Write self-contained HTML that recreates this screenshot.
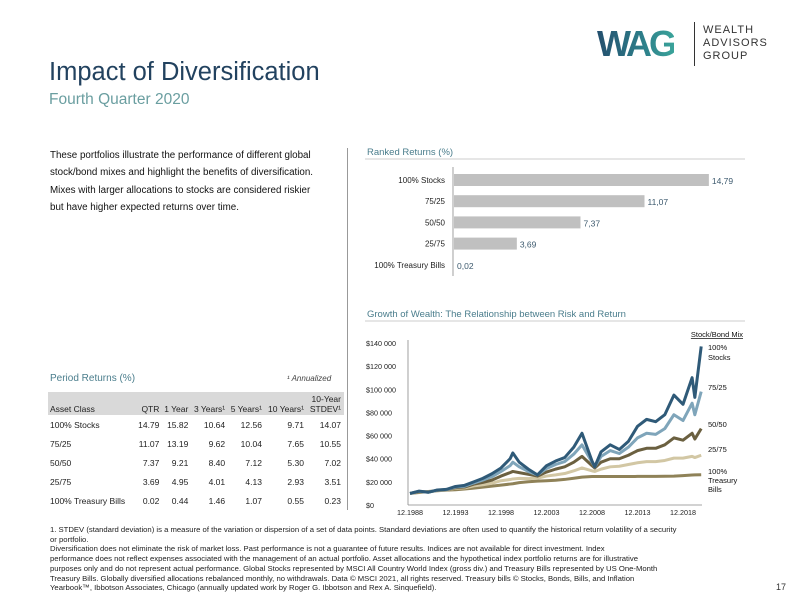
<!DOCTYPE html>
<html><head><meta charset="utf-8"><style>
body{margin:0;width:792px;height:612px;background:#fff;font-family:"Liberation Sans",sans-serif;position:relative;overflow:hidden}
.a{position:absolute;white-space:nowrap}
</style></head><body>
<div class="a" style="left:49px;top:58px;font-size:25.5px;color:#22425f">Impact of Diversification</div>
<div class="a" style="left:49px;top:91px;font-size:15.5px;color:#6a9ea0">Fourth Quarter 2020</div>
<div class="a" style="left:597px;top:22px;width:190px;height:44px">
 <div style="position:absolute;left:0;top:4px;font-size:36px;font-weight:bold;letter-spacing:-3px;line-height:36px;background:linear-gradient(90deg,#244f6e,#2d7f8a 60%,#3aa39a);-webkit-background-clip:text;background-clip:text;color:transparent">WAG</div>
 <div style="position:absolute;left:97px;top:0;width:1px;height:44px;background:#333"></div>
 <div style="position:absolute;left:106px;top:2px;font-size:11px;line-height:13px;color:#333;letter-spacing:1px">WEALTH<br>ADVISORS<br>GROUP</div>
</div>
<div class="a" style="left:50px;top:147px;font-size:9.8px;line-height:17.3px;color:#111">These portfolios illustrate the performance of different global<br>stock/bond mixes and highlight the benefits of diversification.<br>Mixes with larger allocations to stocks are considered riskier<br>but have higher expected returns over time.</div>
<div class="a" style="left:347px;top:148px;width:1px;height:362px;background:#999"></div>

<div class="a" style="left:50px;top:373px;font-size:10px;color:#4a7d8c">Period Returns (%)</div>
<div class="a" style="left:287px;top:374px;font-size:8px;font-style:italic;color:#444">¹ Annualized</div>
<div class="a" style="left:48px;top:392px;width:296px;height:23px;background:#d9d9d9"></div>
<table class="a" style="left:48px;top:392px;width:296px;border-collapse:collapse;font-size:8.5px;color:#222">
<tr style="height:23px;vertical-align:bottom"><td style="padding-left:2px">Asset Class</td><td align="right">QTR</td><td align="right">1 Year</td><td align="right">3 Years¹</td><td align="right">5 Years¹</td><td align="right">10 Years¹</td><td align="right" style="padding-right:3px">10-Year<br>STDEV¹</td></tr>
<tr style="height:19px"><td style="padding-left:2px">100% Stocks</td><td align="right">14.79</td><td align="right">15.82</td><td align="right">10.64</td><td align="right">12.56</td><td align="right">9.71</td><td align="right" style="padding-right:3px">14.07</td></tr>
<tr style="height:19px"><td style="padding-left:2px">75/25</td><td align="right">11.07</td><td align="right">13.19</td><td align="right">9.62</td><td align="right">10.04</td><td align="right">7.65</td><td align="right" style="padding-right:3px">10.55</td></tr>
<tr style="height:19px"><td style="padding-left:2px">50/50</td><td align="right">7.37</td><td align="right">9.21</td><td align="right">8.40</td><td align="right">7.12</td><td align="right">5.30</td><td align="right" style="padding-right:3px">7.02</td></tr>
<tr style="height:19px"><td style="padding-left:2px">25/75</td><td align="right">3.69</td><td align="right">4.95</td><td align="right">4.01</td><td align="right">4.13</td><td align="right">2.93</td><td align="right" style="padding-right:3px">3.51</td></tr>
<tr style="height:19px"><td style="padding-left:2px">100% Treasury Bills</td><td align="right">0.02</td><td align="right">0.44</td><td align="right">1.46</td><td align="right">1.07</td><td align="right">0.55</td><td align="right" style="padding-right:3px">0.23</td></tr>
</table>

<svg class="a" id="svg" style="left:0;top:0" width="792" height="612"></svg>

<div class="a" style="left:50px;top:525px;font-size:7.7px;line-height:9.7px;color:#222">1. STDEV (standard deviation) is a measure of the variation or dispersion of a set of data points. Standard deviations are often used to quantify the historical return volatility of a security<br>or portfolio.<br>Diversification does not eliminate the risk of market loss. Past performance is not a guarantee of future results. Indices are not available for direct investment. Index<br>performance does not reflect expenses associated with the management of an actual portfolio. Asset allocations and the hypothetical index portfolio returns are for illustrative<br>purposes only and do not represent actual performance. Global Stocks represented by MSCI All Country World Index (gross div.) and Treasury Bills represented by US One-Month<br>Treasury Bills. Globally diversified allocations rebalanced monthly, no withdrawals. Data © MSCI 2021, all rights reserved. Treasury bills © Stocks, Bonds, Bills, and Inflation<br>Yearbook™, Ibbotson Associates, Chicago (annually updated work by Roger G. Ibbotson and Rex A. Sinquefield).</div>
<div class="a" style="left:776px;top:582px;font-size:9px;color:#333">17</div>

<script>
const rankedLabels=["100% Stocks","75/25","50/50","25/75","100% Treasury Bills"];
const rankedValues=[14.79,11.07,7.37,3.69,0.02];
const rankedText=["14,79","11,07","7,37","3,69","0,02"];
const dates=[1988.9,1989.9,1990.9,1991.9,1992.9,1993.9,1994.9,1995.9,1996.9,1997.9,1998.9,1999.9,2000.2,2000.9,2001.9,2002.9,2003.9,2004.9,2005.9,2006.9,2007.8,2008.9,2009.2,2009.9,2010.9,2011.9,2012.9,2013.9,2014.9,2015.9,2016.9,2017.9,2018.9,2019.9,2020.2,2020.9];
const stocks=[10,12,11,13,13.5,16,17,20,23,27,32,40,45,37,31,26,34,38,41,50,62,38,33,46,52,48,55,68,74,72,78,95,87,110,93,137];
const mix7525=[10,11.8,11,12.8,13.3,15.5,16.2,19,21.5,24.5,29,34,37,33,29,26,31.5,35,37.5,44,52,37,33,42,47,44.5,50,58,62,61,66,78,73,88,78,98];
const mix5050=[10,11.6,11.2,12.6,13.2,15,15.5,18,19.5,21.5,25,28,29,28,26.5,25,28.5,31,33,37,42,34,32,37,40,40,43,47,49,49,52,58,56,62,57,66];
const mix2575=[10,11.4,11.3,12.4,13,14.5,14.8,16.5,17.5,18.8,21,22,22.5,23,22.8,23.2,25,26,27.2,29.5,32,29.5,29,31,33,33.5,35,36.5,37.5,37.5,38.5,40.5,40.5,42,41,43];
const bills=[10,10.8,11.7,12.3,12.8,13.2,13.8,14.6,15.4,16.3,17.2,18.1,18.4,19.3,20.1,20.6,21,21.4,22.1,23.1,24.1,24.6,24.6,24.6,24.6,24.6,24.6,24.7,24.7,24.7,24.8,25,25.4,25.9,26,26.1];
const yTicks=[0,20,40,60,80,100,120,140];
const yTickLabels=["$0","$20 000","$40 000","$60 000","$80 000","$100 000","$120 000","$140 000"];
const xTicks=[1988.9,1993.9,1998.9,2003.9,2008.9,2013.9,2018.9];
const xTickLabels=["12.1988","12.1993","12.1998","12.2003","12.2008","12.2013","12.2018"];

const svg=document.getElementById('svg');const NS="http://www.w3.org/2000/svg";
function mk(t,a,txt){const e=document.createElementNS(NS,t);for(const k in a)e.setAttribute(k,a[k]);if(txt!==undefined)e.textContent=txt;svg.appendChild(e);return e;}
let e=mk('text',{x:367,y:155,'font-size':9.5,fill:'#4a7d8c'},'Ranked Returns (%)');


e=mk('line',{x1:365,x2:745,y1:159,y2:159,stroke:'#bbb','stroke-width':0.8});


const bx=v=>453+v*17.3;
e=mk('line',{x1:453,x2:453,y1:167,y2:276,stroke:'#888','stroke-width':0.8});


rankedValues.forEach((v,i)=>{const cy=180+i*21.2;
 let r=mk('rect',{x:454,y:cy-6,width:Math.max(0,bx(v)-454),height:12,fill:'#c0c0c0'});
 
 
 let l=mk('text',{x:445,y:cy+3,'font-size':8,'text-anchor':'end',fill:'#222'},rankedLabels[i]);
 
 
 let t=mk('text',{x:Math.max(bx(v),454)+3,y:cy+4,'font-size':8.5,fill:'#3d5a6e'},rankedText[i]);
 
 
});
e=mk('text',{x:367,y:317,'font-size':9.5,fill:'#4a7d8c'},'Growth of Wealth: The Relationship between Risk and Return');


e=mk('line',{x1:365,x2:745,y1:321,y2:321,stroke:'#bbb','stroke-width':0.8});


const X=d=>410+(d-1988.9)*9.1, Y=v=>505-v*162/140;
e=mk('line',{x1:408,x2:408,y1:340,y2:505,stroke:'#888','stroke-width':0.8});


e=mk('line',{x1:408,x2:702,y1:505,y2:505,stroke:'#888','stroke-width':0.8});


yTicks.forEach((v,i)=>{let t=mk('text',{x:366,y:Y(v)+3,'font-size':7.2,fill:'#222'},yTickLabels[i]);
 
 });
xTicks.forEach((v,i)=>{let t=mk('text',{x:X(v),y:515,'font-size':7.2,'text-anchor':'middle',fill:'#222'},xTickLabels[i]);
 
 });
const series=[[bills,'#8f8258','bills'],[mix2575,'#d2c7a4','25-75'],[mix5050,'#6b6040','50-50'],[mix7525,'#7fa5ba','75-25'],[stocks,'#2f5a78','stocks']];
series.forEach(([arr,c,n])=>{let p=mk('polyline',{points:arr.map((v,i)=>X(dates[i])+','+Y(v)).join(' '),fill:'none',stroke:c,'stroke-width':3,'stroke-linejoin':'round'});
 
 });
e=mk('text',{x:743,y:337,'font-size':7.5,'text-anchor':'end','text-decoration':'underline',fill:'#111'},'Stock/Bond Mix');


const leg=[["100%",350],["Stocks",360],["75/25",390],["50/50",427],["25/75",452],["100%",474],["Treasury",483],["Bills",492]];
leg.forEach(([t,y])=>{let l=mk('text',{x:708,y:y,'font-size':7.5,fill:'#111'},t);
 
 });
</script>
</body></html>
